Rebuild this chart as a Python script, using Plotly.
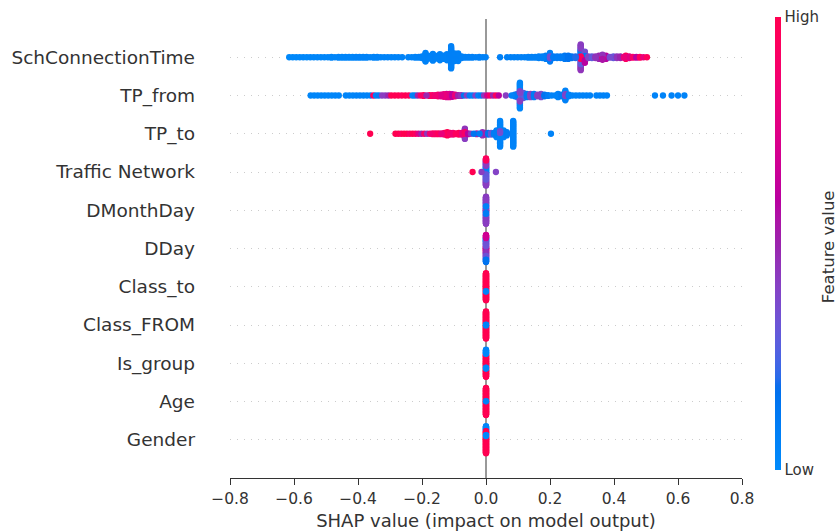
import numpy as np
import plotly.graph_objects as go

# Feature names, top row first
FEATURES = ["SchConnectionTime", "TP_from", "TP_to", "Traffic Network", "DMonthDay",
            "DDay", "Class_to", "Class_FROM", "Is_group", "Age", "Gender"]

# Each entry: (SHAP value, number of samples, normalised feature value 0..1)
SCH_CONNECTION_TIME = [
    (-0.615, 1, 0.02), (-0.604, 1, 0.02), (-0.593, 1, 0.02), (-0.582, 1, 0.02), (-0.571, 1, 0.03),
    (-0.560, 1, 0.02), (-0.549, 1, 0.03), (-0.538, 1, 0.03), (-0.527, 1, 0.03), (-0.516, 1, 0.03),
    (-0.505, 1, 0.03), (-0.494, 1, 0.03), (-0.483, 2, 0.04), (-0.472, 1, 0.04), (-0.461, 2, 0.04),
    (-0.450, 2, 0.04), (-0.439, 2, 0.04), (-0.428, 2, 0.04), (-0.417, 2, 0.04), (-0.406, 2, 0.05),
    (-0.395, 2, 0.05), (-0.384, 2, 0.05), (-0.373, 2, 0.05), (-0.362, 1, 0.05), (-0.351, 2, 0.05),
    (-0.340, 2, 0.05), (-0.329, 1, 0.05), (-0.318, 1, 0.05), (-0.307, 1, 0.05), (-0.296, 1, 0.05),
    (-0.285, 1, 0.05), (-0.274, 1, 0.05), (-0.262, 1, 0.05),
    (-0.243, 1, 0.05), (-0.232, 1, 0.05), (-0.221, 2, 0.05), (-0.210, 2, 0.06), (-0.200, 3, 0.06),
    (-0.189, 11, 0.06), (-0.178, 4, 0.06), (-0.166, 9, 0.06), (-0.155, 4, 0.06), (-0.144, 8, 0.06),
    (-0.133, 5, 0.06), (-0.122, 8, 0.07), (-0.109, 27, 0.07), (-0.098, 10, 0.07), (-0.087, 10, 0.07),
    (-0.076, 3, 0.07), (-0.065, 2, 0.07), (-0.054, 2, 0.07), (-0.043, 2, 0.07), (-0.032, 1, 0.07),
    (-0.021, 2, 0.07), (-0.010, 1, 0.07), (-0.001, 1, 0.07),
    (0.044, 1, 0.08),
    (0.066, 1, 0.08), (0.077, 1, 0.08), (0.088, 1, 0.08), (0.099, 1, 0.08), (0.110, 1, 0.08),
    (0.121, 1, 0.08), (0.132, 2, 0.08), (0.143, 2, 0.08), (0.154, 2, 0.08), (0.165, 3, 0.08),
    (0.176, 3, 0.08), (0.187, 5, 0.1), (0.200, 4, 0.08), (0.200, 3, 0.35), (0.200, 4, 0.1),
    (0.211, 3, 0.1), (0.222, 3, 0.1), (0.233, 3, 0.1), (0.246, 5, 0.12), (0.257, 5, 0.15),
    (0.268, 3, 0.15), (0.280, 3, 0.2),
    (0.296, 6, 0.42), (0.296, 8, 0.1), (0.296, 4, 0.95), (0.296, 6, 0.3), (0.296, 7, 0.45),
    (0.309, 5, 0.35), (0.309, 5, 0.12), (0.309, 4, 0.6),
    (0.320, 3, 0.4), (0.331, 3, 0.3), (0.342, 3, 0.45), (0.353, 5, 0.5), (0.364, 2, 0.45),
    (0.364, 3, 0.95), (0.364, 2, 0.55), (0.375, 5, 0.6), (0.387, 2, 0.35), (0.398, 3, 0.3),
    (0.409, 3, 0.45), (0.420, 3, 0.5), (0.431, 2, 0.8), (0.437, 5, 0.95), (0.448, 3, 0.75),
    (0.459, 2, 0.9), (0.470, 2, 0.6), (0.481, 2, 0.95), (0.492, 1, 0.8), (0.503, 1, 0.95),
]

TP_FROM = [
    (-0.548, 1, 0.03), (-0.537, 1, 0.03), (-0.526, 1, 0.03), (-0.515, 1, 0.03), (-0.504, 1, 0.03),
    (-0.493, 1, 0.03), (-0.482, 1, 0.03), (-0.471, 1, 0.04), (-0.460, 1, 0.04),
    (-0.438, 1, 0.04), (-0.427, 1, 0.04), (-0.416, 1, 0.04), (-0.405, 1, 0.05), (-0.394, 1, 0.05),
    (-0.383, 1, 0.05), (-0.372, 1, 0.05), (-0.361, 1, 0.05),
    (-0.352, 1, 0.95), (-0.344, 1, 0.06), (-0.335, 1, 0.1), (-0.325, 1, 0.42), (-0.315, 1, 0.42),
    (-0.305, 1, 0.5),
    (-0.296, 1, 1.0), (-0.285, 1, 1.0), (-0.274, 1, 1.0), (-0.263, 1, 0.95), (-0.252, 1, 1.0),
    (-0.241, 1, 0.95), (-0.230, 1, 0.05), (-0.222, 1, 0.08),
    (-0.213, 1, 0.5), (-0.204, 1, 0.9), (-0.195, 2, 0.95), (-0.186, 1, 0.5), (-0.177, 2, 0.95),
    (-0.168, 2, 0.9), (-0.159, 2, 0.85), (-0.150, 3, 0.9), (-0.141, 3, 0.75), (-0.132, 4, 0.8),
    (-0.123, 5, 0.7), (-0.114, 5, 0.75), (-0.105, 4, 0.6), (-0.096, 3, 0.8), (-0.087, 2, 0.5),
    (-0.078, 2, 0.45), (-0.069, 1, 0.15), (-0.060, 1, 0.42), (-0.051, 1, 0.1), (-0.042, 1, 0.05),
    (-0.033, 1, 0.4), (-0.024, 1, 0.05), (-0.015, 1, 0.1), (-0.006, 1, 0.45),
    (0.004, 1, 0.7), (0.013, 1, 0.9), (0.022, 1, 0.5), (0.031, 1, 0.95), (0.040, 1, 0.6),
    (0.062, 1, 0.42),
    (0.080, 1, 0.05), (0.090, 3, 0.1), (0.098, 5, 0.3),
    (0.106, 10, 0.04), (0.106, 3, 0.4), (0.106, 8, 0.06), (0.106, 2, 0.42), (0.106, 8, 0.04),
    (0.117, 7, 0.3), (0.128, 5, 0.1), (0.139, 5, 0.4), (0.150, 5, 0.1), (0.161, 3, 0.42),
    (0.172, 5, 0.35), (0.183, 3, 0.15), (0.194, 2, 0.1),
    (0.205, 1, 0.05), (0.216, 1, 0.05), (0.225, 5, 0.05), (0.236, 3, 0.1),
    (0.248, 4, 0.05), (0.248, 3, 0.4), (0.248, 5, 0.08), (0.259, 3, 0.05),
    (0.270, 1, 0.05), (0.281, 1, 0.05), (0.292, 1, 0.05), (0.303, 1, 0.05), (0.314, 1, 0.05),
    (0.325, 1, 0.05), (0.345, 1, 0.05), (0.356, 1, 0.05), (0.367, 1, 0.05), (0.378, 1, 0.05),
    (0.528, 1, 0.05), (0.553, 1, 0.05), (0.580, 1, 0.05), (0.600, 1, 0.05), (0.620, 1, 0.05),
]

TP_TO = [
    (-0.362, 1, 1.0),
    (-0.283, 1, 1.0), (-0.274, 1, 1.0), (-0.265, 1, 0.95), (-0.256, 1, 1.0), (-0.247, 1, 1.0),
    (-0.238, 1, 0.9), (-0.229, 1, 1.0), (-0.220, 1, 0.95), (-0.211, 1, 0.75), (-0.202, 1, 0.5),
    (-0.193, 1, 0.9), (-0.184, 1, 0.45), (-0.175, 1, 0.85), (-0.166, 2, 0.95), (-0.157, 2, 0.9),
    (-0.148, 2, 0.95), (-0.139, 2, 0.8), (-0.130, 3, 0.95), (-0.121, 5, 1.0), (-0.112, 3, 0.9),
    (-0.103, 3, 0.85), (-0.094, 2, 0.95), (-0.085, 3, 1.0), (-0.076, 3, 0.8),
    (-0.066, 4, 0.45), (-0.066, 3, 0.9), (-0.066, 6, 0.42),
    (-0.056, 2, 0.6), (-0.047, 1, 0.42), (-0.038, 1, 0.15), (-0.029, 2, 0.5), (-0.020, 1, 0.1),
    (-0.011, 5, 0.45), (-0.002, 3, 0.5), (0.007, 3, 0.15), (0.016, 3, 0.3), (0.025, 3, 0.1),
    (0.033, 9, 0.05), (0.044, 12, 0.04), (0.044, 3, 0.35), (0.044, 16, 0.05), (0.055, 9, 0.05),
    (0.065, 5, 0.1), (0.085, 31, 0.05),
    (0.203, 1, 0.05),
]

TRAFFIC_NETWORK = [
    (-0.042, 1, 1.0), (-0.014, 1, 0.42),
    (0.0, 8, 0.95), (0.0, 20, 0.42), (0.0, 30, 0.06), (0.0, 20, 0.3), (0.0, 22, 0.42),
    (0.031, 1, 0.4),
]

DMONTH_DAY = [(0.0, 15, 0.42), (0.0, 20, 0.36), (0.0, 2, 0.06), (0.0, 23, 0.4),
              (0.0, 3, 0.1), (0.0, 20, 0.38), (0.0, 17, 0.42)]

DDAY = [(0.0, 12, 0.68), (0.0, 15, 0.1), (0.0, 15, 0.33), (0.0, 20, 0.7),
        (0.0, 15, 0.45), (0.0, 13, 0.33), (0.0, 10, 0.15)]

CLASS_TO = [(0.0, 66, 1.0), (0.0, 2, 0.05), (0.0, 32, 1.0)]
CLASS_FROM = [(0.0, 48, 1.0), (0.0, 4, 0.05), (0.0, 48, 1.0)]
IS_GROUP = [(0.0, 16, 0.02), (0.0, 50, 1.0), (0.0, 4, 0.02), (0.0, 30, 1.0)]
AGE = [(0.0, 48, 1.0), (0.0, 2, 0.05), (0.0, 50, 1.0)]
GENDER = [(0.0, 18, 0.02), (0.0, 15, 1.0), (0.0, 4, 0.02), (0.0, 63, 1.0)]

ROWS = [SCH_CONNECTION_TIME, TP_FROM, TP_TO, TRAFFIC_NETWORK, DMONTH_DAY, DDAY,
        CLASS_TO, CLASS_FROM, IS_GROUP, AGE, GENDER]

X_TICKS = [-0.8, -0.6, -0.4, -0.2, 0.0, 0.2, 0.4, 0.6, 0.8]


def red_blue_scale(steps=60):
    """Blue -> purple -> red colormap interpolated in LCH space."""
    l_vals = list(np.linspace(54.0, 40.0, steps // 2)) + list(np.linspace(40.0, 54.0, steps - steps // 2))
    c_vals = np.linspace(70.0, 90.0, steps)
    h_vals = np.linspace(4.6588, 0.35470565 + 2 * np.pi, steps)

    def finv(t):
        return t ** 3 if t > 0.2068966 else (t - 16.0 / 116.0) / 7.787

    scale = []
    for pos, l, c, h in zip(np.linspace(0, 1, steps), l_vals, c_vals, h_vals):
        a, b = c * np.cos(h), c * np.sin(h)
        fy = (l + 16.0) / 116.0
        fx, fz = fy + a / 500.0, fy - b / 200.0
        X, Y, Z = 0.95047 * finv(fx), finv(fy), 1.08883 * finv(fz)
        lin = [3.2406 * X - 1.5372 * Y - 0.4986 * Z,
               -0.9689 * X + 1.8758 * Y + 0.0415 * Z,
               0.0557 * X - 0.2040 * Y + 1.0570 * Z]
        rgb = []
        for u in lin:
            u = 1.055 * u ** (1 / 2.4) - 0.055 if u > 0.0031308 else 12.92 * u
            rgb.append(int(round(255 * min(max(u, 0.0), 1.0))))
        scale.append([float(pos), "rgb(%d,%d,%d)" % tuple(rgb)])
    return scale


def beeswarm(runs, row, row_height=0.4):
    """Stack samples that share a SHAP value vertically around the row centre."""
    stacks = {}
    for v, n, f in runs:
        stacks.setdefault(v, []).extend([(f, n)] * n)
    m_max = max((len(s) - 1) / 2 for s in stacks.values())
    k = 0.9 * row_height / (m_max + 1)
    pts = []
    for v, members in stacks.items():
        half = (len(members) - 1) / 2
        for i, (f, n) in enumerate(members):
            pts.append((v, row + (half - i) * k, f, n))
    return pts


points = []
n_rows = len(FEATURES)
for idx, runs in enumerate(ROWS):
    points.extend(beeswarm(runs, n_rows - 1 - idx))
# larger groups first so minority colours remain visible on top
points.sort(key=lambda p: -p[3])

xs = [p[0] for p in points]
ys = [p[1] for p in points]
cs = [p[2] for p in points]

fig = go.Figure()
fig.add_trace(go.Scatter(
    x=xs, y=ys, mode="markers",
    marker=dict(
        size=6.3, color=cs, cmin=0, cmax=1, colorscale=red_blue_scale(),
        line=dict(width=0),
        colorbar=dict(
            tickvals=[0, 1], ticktext=["Low", "High"], ticks="",
            tickfont=dict(family="DejaVu Sans", size=15, color="#333333"),
            thickness=6, thicknessmode="pixels", len=453, lenmode="pixels",
            x=1.0645, xanchor="left", xpad=0, y=0.511, yanchor="middle", ypad=0,
            outlinewidth=0, borderwidth=0,
        ),
    ),
    hoverinfo="skip", showlegend=False,
))

fig.add_annotation(
    text="Feature value", textangle=-90, showarrow=False,
    x=1.168, y=0.503, xref="paper", yref="paper", xanchor="center", yanchor="middle",
    font=dict(family="DejaVu Sans", size=16.5, color="#333333"),
)

fig.update_layout(
    width=837, height=531,
    margin=dict(l=230, r=95, t=19, b=53, autoexpand=False),
    plot_bgcolor="white", paper_bgcolor="white",
    font=dict(family="DejaVu Sans", color="#333333"),
    xaxis=dict(
        range=[-0.8, 0.8], tickvals=X_TICKS, automargin=False,
        ticktext=[("\u2212%.1f" % -t) if t < 0 else "%.1f" % t for t in X_TICKS],
        ticks="outside", ticklen=6, tickwidth=1.2, tickcolor="#333333",
        showline=True, linecolor="#333333", linewidth=1.2,
        showgrid=False, zeroline=True, zerolinecolor="#999999", zerolinewidth=1.5,
        tickfont=dict(size=15.5, color="#333333"),
        title=dict(text="SHAP value (impact on model output)",
                   font=dict(size=18, color="#333333"), standoff=8),
    ),
    yaxis=dict(
        range=[-1, n_rows], tickvals=list(range(n_rows)), automargin=False,
        ticktext=FEATURES[::-1], ticks="", ticklabelstandoff=34,
        showline=False, zeroline=False,
        showgrid=True, gridcolor="#cccccc", gridwidth=1, griddash="1px,6px",
        tickfont=dict(size=18.5, color="#333333"),
    ),
)

fig.write_html("out.html")
